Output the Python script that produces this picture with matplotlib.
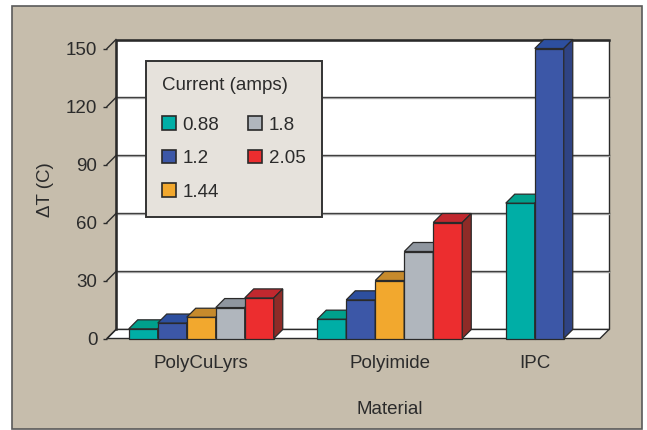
import numpy as np
import matplotlib
matplotlib.use("Agg")
import matplotlib.pyplot as plt
import matplotlib.transforms as mtransforms
from matplotlib.patches import Polygon, Rectangle, Patch

# Temperature rise per material, one bar per current
materials = ['PolyCuLyrs', 'Polyimide', 'IPC']
currents = ['0.88', '1.2', '1.44', '1.8', '2.05']
poly_cu = [5, 8, 11, 16, 21]
polyimide = [10, 20, 30, 45, 60]
ipc = [70, 150]
yticks = [0, 30, 60, 90, 120, 150]

front_colors = ['#00AEA6', '#3C57A7', '#F2A82E', '#B0B6BD', '#EC2D2F']
top_colors = ['#00A08C', '#2D4F9F', '#C68A2C', '#8F969F', '#C1282F']
side_colors = ['#00857C', '#2F4383', '#B07A22', '#7D838B', '#8E2B27']

tan = '#C6BDAC'
edge = '#2a2a2a'
txt = '#2b2b2b'
fs = 13.5

plt.rcParams['font.family'] = ['Liberation Sans', 'DejaVu Sans']

fig = plt.figure(figsize=(6.47, 4.30), dpi=100, facecolor='white')

# tan frame behind everything
fig.patches.append(Rectangle((12 / 647, 1 - 428.5 / 430), 630 / 647, 422.5 / 430,
                             transform=fig.transFigure, facecolor=tan,
                             edgecolor='#5a5a5a', linewidth=1.2, zorder=-5))

ax = fig.add_axes([107 / 647, 1 - 338.5 / 430, 502 / 647, 299 / 430])
ax.set_facecolor('none')
for s in ax.spines.values():
    s.set_visible(False)

# depth of the pseudo-3D box (in data units)
dx = 0.31
dy = 4.66
x0 = -0.75
x1 = 16.56
ytop = 150 + dy
ax.set_xlim(x0, x1)
ax.set_ylim(0, ytop)

# back wall and floor
ax.add_patch(Polygon([(x0 + dx, dy), (x1, dy), (x1, ytop), (x0 + dx, ytop)],
                     closed=True, facecolor='white', edgecolor=edge, linewidth=1.0,
                     zorder=1, clip_on=False))
ax.plot([x0 + dx, x0 + dx, x1], [dy, ytop, ytop], color=edge, lw=1.8, zorder=2,
        clip_on=False, solid_capstyle='projecting')
ax.add_patch(Polygon([(x0, 0), (x1 - dx, 0), (x1, dy), (x0 + dx, dy)],
                     closed=True, facecolor='white', edgecolor=edge, linewidth=1.0,
                     zorder=1, clip_on=False))

# gridlines on the wall plus the slanted bits back from each tick
shadow = ax.transData + mtransforms.ScaledTranslation(0, -1 / 100, fig.dpi_scale_trans)
for v in yticks:
    if 0 < v < 150:
        ax.plot([x0 + dx, x1], [v + dy, v + dy], color='#b5b5b5', lw=1.0, zorder=1.5,
                clip_on=False, transform=shadow)
        ax.plot([x0 + dx, x1], [v + dy, v + dy], color='#404040', lw=1.0, zorder=1.6,
                clip_on=False)
    ax.plot([x0, x0 + dx], [v, v + dy], color=edge, lw=1.0, zorder=2, clip_on=False)

ax.set_yticks(yticks)
ax.set_yticklabels([str(v) for v in yticks])
ax.tick_params(axis='y', direction='out', length=3, width=1, color=edge,
               pad=4, labelsize=fs, labelcolor=txt)


def draw_group(start, values, z):
    xs = start + np.arange(len(values))
    bars = ax.bar(xs, values, width=1, align='edge', color=front_colors[:len(values)],
                  edgecolor=edge, linewidth=0.9, clip_on=False)
    for i, (b, h) in enumerate(zip(bars, values)):
        zb = z + i * 3
        b.set_zorder(zb)
        xl, xr = b.get_x(), b.get_x() + b.get_width()
        ax.add_patch(Polygon([(xl, h), (xr, h), (xr + dx, h + dy), (xl + dx, h + dy)],
                             closed=True, facecolor=top_colors[i], edgecolor=edge,
                             linewidth=0.9, zorder=zb + 1, clip_on=False))
        ax.add_patch(Polygon([(xr, 0), (xr + dx, dy), (xr + dx, h + dy), (xr, h)],
                             closed=True, facecolor=side_colors[i], edgecolor=edge,
                             linewidth=0.9, zorder=zb + 1, clip_on=False))
    return bars


groups = [poly_cu, polyimide, ipc]
starts = [0, 6.5, 13]
for g, (st, vals) in enumerate(zip(starts, groups)):
    draw_group(st, vals, 10 + g * 20)

centers = [st + len(vals) / 2 for st, vals in zip(starts, groups)]
ax.set_xticks(centers)
ax.set_xticklabels(materials)
ax.tick_params(axis='x', length=0, pad=12, labelsize=fs, labelcolor=txt)

fig.text(45 / 647, 1 - 190 / 430, '\u0394T (C)', rotation=90, ha='center', va='center',
         fontsize=fs, color=txt)
fig.text(390 / 647, 1 - 410 / 430, 'Material', ha='center', va='center',
         fontsize=fs, color=txt)

leg_handles = [Patch(facecolor=c, edgecolor=edge, linewidth=1.2) for c in front_colors]
leg = fig.legend(leg_handles, currents, title='Current (amps)', ncol=2,
                 loc='upper left', bbox_to_anchor=(146 / 647, 1 - 61 / 430),
                 borderaxespad=0, fontsize=fs, title_fontsize=fs,
                 handlelength=0.75, handleheight=0.75, handletextpad=0.35,
                 columnspacing=1.55, labelspacing=0.86, borderpad=0.85,
                 fancybox=False, framealpha=1, alignment='left')
# a little more room under the title
leg._legend_box.sep = 16
leg.get_frame().set_facecolor('#E6E2DC')
leg.get_frame().set_edgecolor('#333333')
leg.get_frame().set_linewidth(1.4)
leg.set_zorder(100)
for t in leg.get_texts():
    t.set_color(txt)
leg.get_title().set_color(txt)

fig.savefig('out.png', dpi=100, facecolor='white')
